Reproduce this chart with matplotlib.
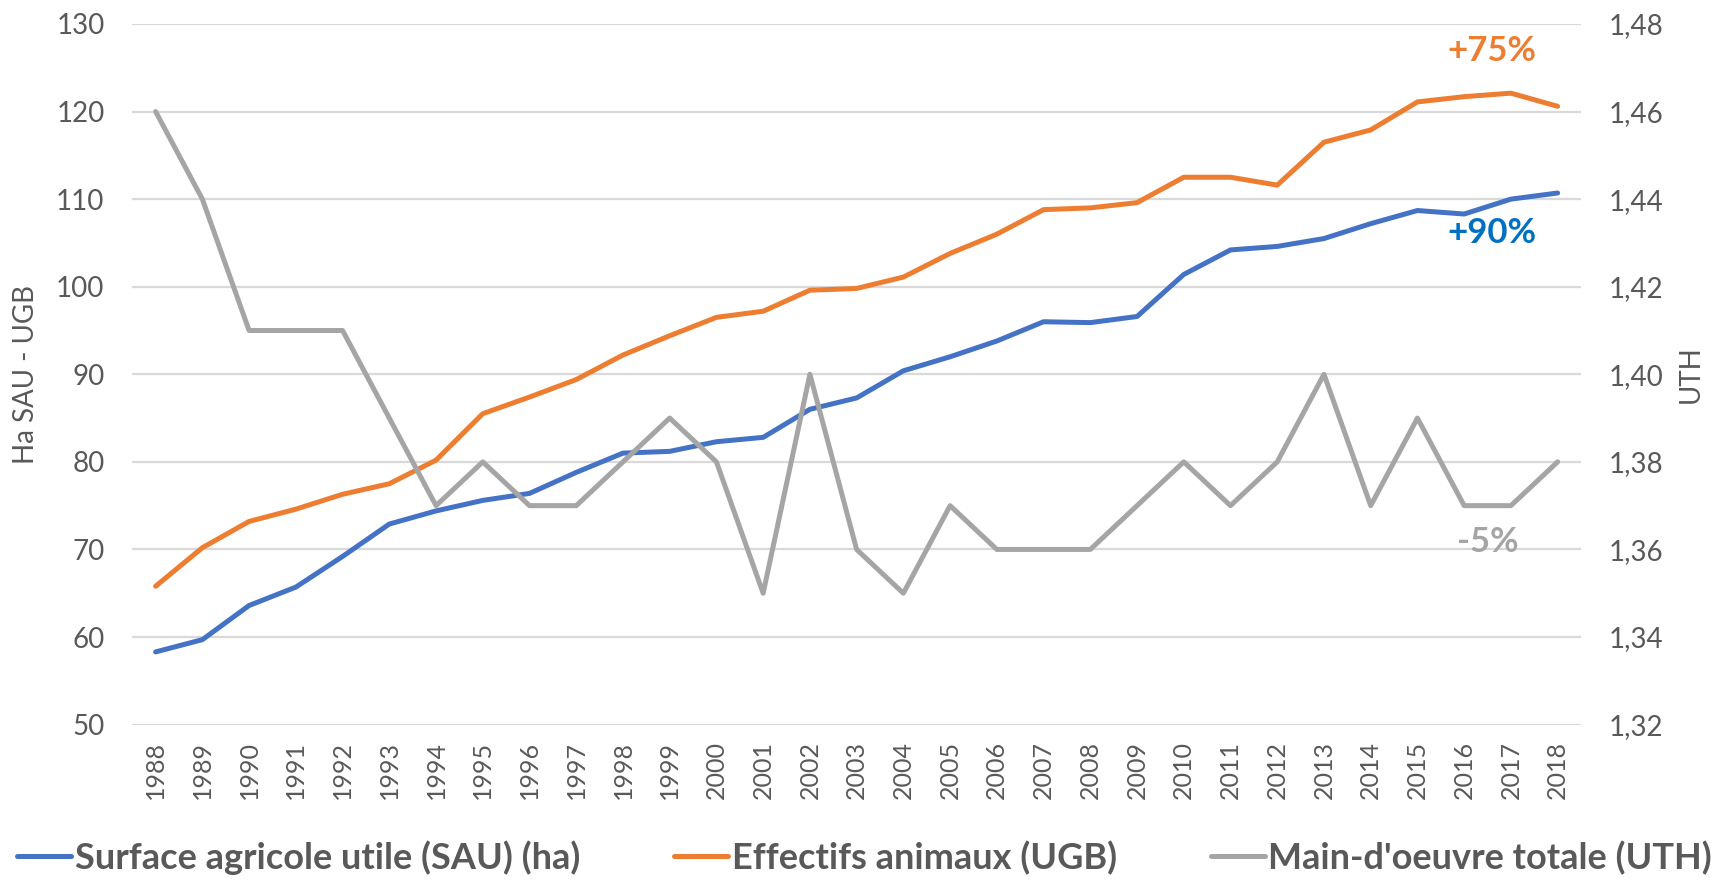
import matplotlib.pyplot as plt
from matplotlib.ticker import FuncFormatter

# Data
years = list(range(1988, 2019))
sau = [58.3, 59.7, 63.6, 65.7, 69.2, 72.9, 74.4, 75.6, 76.4, 78.8,
       81.0, 81.2, 82.3, 82.8, 86.0, 87.3, 90.4, 92.0, 93.8, 96.0,
       95.9, 96.6, 101.4, 104.2, 104.6, 105.5, 107.2, 108.7, 108.3, 110.0,
       110.7]
ugb = [65.8, 70.2, 73.2, 74.6, 76.3, 77.5, 80.2, 85.5, 87.4, 89.4,
       92.2, 94.4, 96.5, 97.2, 99.6, 99.8, 101.1, 103.8, 106.0, 108.8,
       109.0, 109.6, 112.5, 112.5, 111.6, 116.5, 117.9, 121.1, 121.7, 122.1,
       120.6]
uth = [1.46, 1.44, 1.41, 1.41, 1.41, 1.39, 1.37, 1.38, 1.37, 1.37,
       1.38, 1.39, 1.38, 1.35, 1.40, 1.36, 1.35, 1.37, 1.36, 1.36,
       1.36, 1.37, 1.38, 1.37, 1.38, 1.40, 1.37, 1.39, 1.37, 1.37,
       1.38]

plt.rcParams['font.family'] = ['Lato', 'DejaVu Sans']
text_col = '#595959'

fig, ax = plt.subplots(figsize=(17.29, 8.88), dpi=100)
plt.subplots_adjust(left=0.0765, right=0.9144, top=0.973, bottom=0.184)
ax2 = ax.twinx()

x = list(range(len(years)))
l1, = ax.plot(x, sau, color='#4472C4', lw=3.6, solid_capstyle='round',
              label='Surface agricole utile (SAU) (ha)', zorder=3)
l2, = ax.plot(x, ugb, color='#ED7D31', lw=3.6, solid_capstyle='round',
              label='Effectifs animaux (UGB)', zorder=3)
l3, = ax2.plot(x, uth, color='#A5A5A5', lw=3.6, solid_capstyle='round',
               label="Main-d'oeuvre totale (UTH)", zorder=3)

ax.set_xlim(-0.5, len(years) - 0.5)
ax.set_ylim(50, 130)
ax.set_yticks(range(50, 131, 10))
ax2.set_ylim(1.32, 1.48)
ax2.set_yticks([1.32, 1.34, 1.36, 1.38, 1.40, 1.42, 1.44, 1.46, 1.48])
ax2.yaxis.set_major_formatter(FuncFormatter(lambda v, p: f"{v:.2f}".replace('.', ',')))

ax.set_xticks(x)
ax.set_xticklabels([str(y) for y in years], rotation=90)

ax.grid(axis='y', color='#D9D9D9', lw=1.6, zorder=0)
for a in (ax, ax2):
    for s in a.spines.values():
        s.set_visible(False)
    a.tick_params(axis='y', length=0, labelsize=20, colors=text_col, pad=20)
ax.tick_params(axis='x', length=0, labelsize=18, colors=text_col, pad=12)

ax.set_ylabel('Ha SAU - UGB', fontsize=20, color=text_col, labelpad=12)
ax2.set_ylabel('UTH', fontsize=20, color=text_col, labelpad=10)

# percentage annotations
ax.text(28.6, 126.9, '+75%', color='#ED7D31', fontsize=25, fontweight='bold', ha='center', va='center')
ax.text(28.6, 106.1, '+90%', color='#0070C0', fontsize=25, fontweight='bold', ha='center', va='center')
ax2.text(28.5, 1.3618, '-5%', color='#A5A5A5', fontsize=25, fontweight='bold', ha='center', va='center')

fig.legend(handles=[l1, l2, l3], loc='center', ncol=3, frameon=False,
           bbox_to_anchor=(0.5, 0.034), handlelength=1.5, columnspacing=2.6,
           handletextpad=0.1, prop={'size': 26, 'weight': 'bold'}, labelcolor=text_col)

plt.savefig('out.png', dpi=100)
